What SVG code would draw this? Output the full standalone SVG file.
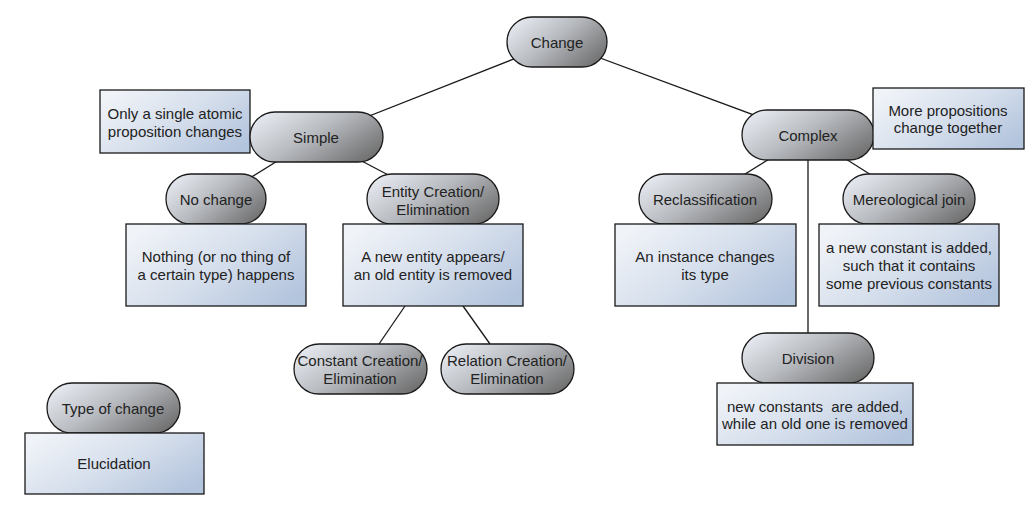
<svg xmlns="http://www.w3.org/2000/svg" width="1036" height="509" viewBox="0 0 1036 509">
<defs>
<linearGradient id="pg" x1="0" y1="0.2" x2="1" y2="0.8">
<stop offset="0" stop-color="#e6eaf0"/>
<stop offset="0.45" stop-color="#b8bbc0"/>
<stop offset="1" stop-color="#6e6e6e"/>
</linearGradient>
<linearGradient id="bg" x1="0" y1="0.2" x2="1" y2="0.8">
<stop offset="0" stop-color="#f0f3f8"/>
<stop offset="0.5" stop-color="#d6dfec"/>
<stop offset="1" stop-color="#b3c4dd"/>
</linearGradient>
</defs>
<style>
.pill{fill:url(#pg);stroke:#1a1a1a;stroke-width:1.3}
.box{fill:url(#bg);stroke:#1a1a1a;stroke-width:1.3}
.edge{stroke:#1a1a1a;stroke-width:1.3;fill:none}
text{font-family:"Liberation Sans",Arial,sans-serif;font-size:15px;fill:#222;text-anchor:middle}
</style>
<rect width="1036" height="509" fill="#ffffff"/>
<g id="connectors">
<line class="edge" x1="557" y1="42" x2="316" y2="137"/>
<line class="edge" x1="557" y1="42" x2="808" y2="135"/>
<line class="edge" x1="316" y1="137" x2="216" y2="199"/>
<line class="edge" x1="316" y1="137" x2="434" y2="199"/>
<line class="edge" x1="808" y1="135" x2="705" y2="199"/>
<line class="edge" x1="808" y1="135" x2="909" y2="199"/>
<line class="edge" x1="808" y1="135" x2="808" y2="358"/>
<line class="edge" x1="405" y1="306" x2="379" y2="344"/>
<line class="edge" x1="463" y1="306" x2="490" y2="344"/>
</g>
<g id="change">
<rect class="pill" x="507" y="17" width="100" height="50" rx="25"/>
<text x="557" y="48">Change</text>
</g>
<g id="simple-note">
<rect class="box" x="100" y="90" width="150" height="63"/>
<text x="175" y="119">Only a single atomic</text>
<text x="175" y="137">proposition changes</text>
</g>
<g id="simple">
<rect class="pill" x="250" y="112" width="133" height="50" rx="25"/>
<text x="316" y="143">Simple</text>
</g>
<g id="complex">
<rect class="pill" x="742" y="110" width="132" height="50" rx="25"/>
<text x="808" y="141">Complex</text>
</g>
<g id="complex-note">
<rect class="box" x="873" y="88" width="151" height="61"/>
<text x="948" y="116">More propositions</text>
<text x="948" y="133">change together</text>
</g>
<g id="no-change">
<rect class="pill" x="166" y="174" width="100" height="50" rx="25"/>
<text x="216" y="205">No change</text>
</g>
<g id="no-change-note">
<rect class="box" x="126" y="224" width="180" height="82"/>
<text x="216" y="262">Nothing (or no thing of</text>
<text x="216" y="280">a certain type) happens</text>
</g>
<g id="entity">
<rect class="pill" x="367" y="174" width="132" height="50" rx="25"/>
<text x="433" y="197">Entity Creation/</text>
<text x="433" y="215">Elimination</text>
</g>
<g id="entity-note">
<rect class="box" x="343" y="224" width="180" height="82"/>
<text x="433" y="262">A new entity appears/</text>
<text x="433" y="280">an old entity is removed</text>
</g>
<g id="constant">
<rect class="pill" x="294" y="344" width="133" height="50" rx="25"/>
<text x="360" y="366">Constant Creation/</text>
<text x="360" y="384">Elimination</text>
</g>
<g id="relation">
<rect class="pill" x="441" y="344" width="133" height="50" rx="25"/>
<text x="507" y="366">Relation Creation/</text>
<text x="507" y="384">Elimination</text>
</g>
<g id="reclassification">
<rect class="pill" x="639" y="174" width="133" height="50" rx="25"/>
<text x="705" y="205">Reclassification</text>
</g>
<g id="reclassification-note">
<rect class="box" x="615" y="224" width="181" height="82"/>
<text x="705" y="262">An instance changes</text>
<text x="705" y="280">its type</text>
</g>
<g id="mereological">
<rect class="pill" x="843" y="174" width="132" height="50" rx="25"/>
<text x="909" y="205">Mereological join</text>
</g>
<g id="mereological-note">
<rect class="box" x="819" y="224" width="180" height="82"/>
<text x="909" y="253">a new constant is added,</text>
<text x="909" y="271">such that it contains</text>
<text x="909" y="289">some previous constants</text>
</g>
<g id="division">
<rect class="pill" x="742" y="333" width="132" height="50" rx="25"/>
<text x="808" y="364">Division</text>
</g>
<g id="division-note">
<rect class="box" x="717" y="383" width="196" height="62"/>
<text x="815" y="412" xml:space="preserve">new constants  are added,</text>
<text x="815" y="429">while an old one is removed</text>
</g>
<g id="legend-type">
<rect class="pill" x="47" y="383" width="133" height="50" rx="25"/>
<text x="113" y="414">Type of change</text>
</g>
<g id="legend-elucidation">
<rect class="box" x="25" y="433" width="179" height="61"/>
<text x="114" y="469">Elucidation</text>
</g>
</svg>
